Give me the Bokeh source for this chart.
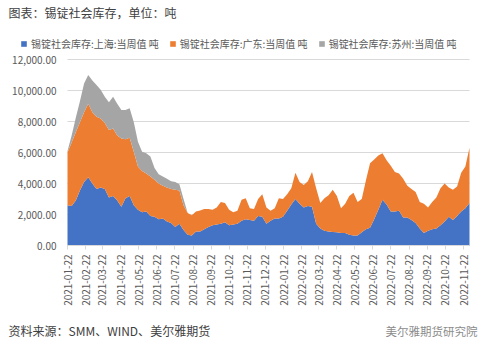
import numpy as np
import pandas as pd
from bokeh.plotting import figure
from bokeh.models import (ColumnDataSource, Legend, LegendItem, Label, FixedTicker,
                          DatetimeTickFormatter, NumeralTickFormatter, Range1d)
from bokeh.embed import file_html
from bokeh.resources import INLINE

# weekly dates (Fridays) 2021-01-22 .. 2022-12-02
DATES = pd.date_range("2021-01-22", periods=98, freq="7D")

SHANGHAI = [2600, 2550, 2900, 3550, 4100, 4400, 4000, 3650, 3750, 3650,
            3100, 3200, 2900, 2500, 3050, 3200, 2600, 2300, 2150, 2200,
            1900, 1850, 1700, 1750, 1550, 1450, 1200, 1400, 1000, 700,
            650, 900, 900, 1050, 1200, 1300, 1350, 1400, 1500, 1300,
            1350, 1400, 1600, 1700, 1650, 1600, 1900, 1850, 1400, 1600,
            1750, 1750, 1850, 2250, 2650, 3000, 2700, 2450, 2550, 2500,
            1400, 1100, 950, 900, 870, 850, 800, 800, 700, 650,
            650, 850, 1050, 1150, 1700, 2300, 2950, 2650, 2200, 2200,
            2250, 1800, 1800, 1650, 1450, 1100, 800, 950, 1050, 1100,
            1300, 1550, 1850, 1650, 1900, 2200, 2400, 2750]

GUANGDONG = [3400, 4100, 4400, 4400, 4500, 4750, 4600, 4650, 4450, 4250,
             4350, 4350, 4200, 4400, 3800, 3750, 3450, 2800, 2650, 2450,
             2550, 2400, 2300, 2100, 2200, 2200, 2400, 2150, 1600, 1400,
             1300, 1300, 1360, 1300, 1150, 1000, 1100, 1400, 1250, 1000,
             800, 850, 1350, 1350, 750, 750, 1100, 1450, 1050, 650,
             650, 1300, 1150, 1050, 1050, 1700, 1400, 1450, 1600, 2250,
             2300, 1650, 2100, 2350, 2730, 2350, 1600, 1900, 2500, 2750,
             2150, 2150, 3150, 4150, 3850, 3500, 3000, 2850, 2950, 2550,
             2400, 2500, 2050, 2000, 2000, 1700, 1900, 1500, 1750, 2000,
             2400, 2450, 1900, 1950, 1900, 2500, 2700, 3550]

SUZHOU = [100, 450, 950, 1350, 1850, 1850, 2050, 2050, 1850, 1700,
          1800, 2050, 2050, 1850, 1900, 1900, 1900, 1600, 1250, 1300,
          1300, 750, 600, 600, 550, 500, 500, 400, 400, 0,
          0, 0, 0, 0, 0, 0, 0, 0, 0, 0,
          0, 0, 0, 0, 0, 0, 0, 0, 0, 0,
          0, 0, 0, 0, 0, 0, 0, 0, 0, 0,
          0, 0, 0, 0, 0, 0, 0, 0, 0, 0,
          0, 0, 0, 0, 0, 0, 0, 0, 0, 0,
          0, 0, 0, 0, 0, 0, 0, 0, 0, 0,
          0, 0, 0, 0, 0, 0, 0, 0]

SERIES_NAMES = ["锡锭社会库存:上海:当周值 吨", "锡锭社会库存:广东:当周值 吨", "锡锭社会库存:苏州:当周值 吨"]
COLORS = ["#4472C4", "#ED7D31", "#A5A5A5"]
Y_TICKS = [0, 2000, 4000, 6000, 8000, 10000, 12000]
X_TICKS = pd.date_range("2021-01-22", "2022-11-22", freq=pd.DateOffset(months=1))

TITLE = "图表：锡锭社会库存，单位：吨"
SOURCE = "资料来源：SMM、WIND、美尔雅期货"
MARK = "美尔雅期货研究院"

CJK = "Noto Sans CJK SC"

# page geometry (pixels): plotting area inside a 500x353 canvas
W, H = 500, 353
AREA_L, AREA_R, AREA_T, AREA_B = 67, 469, 59, 245


def ms(ts):
    return ts.value / 1e6


start_ms, end_ms = ms(DATES[0]), ms(DATES[-1])
ms_per_px = (end_ms - start_ms) / (AREA_R - AREA_L)
val_per_px = Y_TICKS[-1] / (AREA_B - AREA_T)

src = ColumnDataSource(dict(date=DATES, sh=SHANGHAI, gd=GUANGDONG, sz=SUZHOU))
grid_src = ColumnDataSource(dict(x0=[DATES[0]] * len(Y_TICKS), x1=[DATES[-1]] * len(Y_TICKS),
                                 y=Y_TICKS))

p = figure(width=W, height=H, x_axis_type="datetime", output_backend="svg",
           toolbar_location=None,
           x_range=Range1d(start_ms - AREA_L * ms_per_px, end_ms + (W - AREA_R) * ms_per_px),
           y_range=Range1d(-(H - AREA_B) * val_per_px, Y_TICKS[-1] + AREA_T * val_per_px),
           min_border=0, min_border_left=0, min_border_right=0,
           min_border_top=0, min_border_bottom=0)
p.outline_line_color = None
p.background_fill_color = "white"
p.border_fill_color = "white"
p.xgrid.visible = False
p.ygrid.visible = False

# horizontal gridlines over the plotting span only
p.segment(x0="x0", x1="x1", y0="y", y1="y", source=grid_src, line_color="#d9d9d9", line_width=1)

rs = p.varea_stack(stackers=["sh", "gd", "sz"], x="date", color=COLORS, source=src)

p.yaxis.fixed_location = start_ms
p.yaxis.ticker = FixedTicker(ticks=Y_TICKS)
p.yaxis.formatter = NumeralTickFormatter(format="0,0.00")
p.yaxis.axis_line_color = None
p.yaxis.major_tick_line_color = None
p.yaxis.minor_tick_line_color = None
p.yaxis.major_label_text_font_size = "10px"
p.yaxis.major_label_text_color = "#595959"
p.yaxis.major_label_text_font = CJK
p.yaxis.major_label_standoff = 5

p.xaxis.fixed_location = 0
p.xaxis.bounds = (start_ms - 1, end_ms)
p.xaxis.ticker = FixedTicker(ticks=[ms(t) for t in X_TICKS])
p.xaxis.formatter = DatetimeTickFormatter(days="%Y-%m-%d", months="%Y-%m-%d", years="%Y-%m-%d")
p.xaxis.major_label_orientation = np.pi / 2
p.xaxis.axis_line_color = "#d9d9d9"
p.xaxis.major_tick_line_color = "#d9d9d9"
p.xaxis.major_tick_out = 4
p.xaxis.major_tick_in = 0
p.xaxis.minor_tick_line_color = None
p.xaxis.major_label_text_font_size = "10px"
p.xaxis.major_label_text_color = "#595959"
p.xaxis.major_label_text_font = CJK
p.xaxis.major_label_standoff = 5

legend = Legend(items=[LegendItem(label=n, renderers=[r]) for n, r in zip(SERIES_NAMES, rs)],
                orientation="horizontal", location=(20, H - 51),
                glyph_width=7, glyph_height=7, label_height=12, label_standoff=4,
                spacing=10, padding=0, margin=0, border_line_color=None,
                background_fill_alpha=0, label_text_font_size="10px",
                label_text_color="#595959", label_text_font=CJK)
p.add_layout(legend)

# screen units measured from the bottom-left corner of the canvas (frame == canvas)
p.add_layout(Label(x=8, y=H - 12, x_units="screen", y_units="screen", text=TITLE,
                   text_font=CJK, text_font_size="12px", text_color="#404040",
                   text_baseline="middle"))
p.add_layout(Label(x=8, y=H - 330, x_units="screen", y_units="screen", text=SOURCE,
                   text_font=CJK, text_font_size="12px", text_color="#404040",
                   text_baseline="middle"))
p.add_layout(Label(x=385, y=H - 330, x_units="screen", y_units="screen", text=MARK,
                   text_font=CJK, text_font_size="11.5px", text_color="#8c8c8c",
                   text_baseline="middle"))

open("out.html", "w").write(file_html(p, INLINE))
